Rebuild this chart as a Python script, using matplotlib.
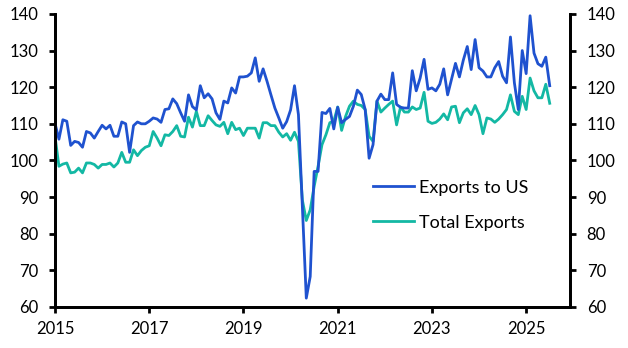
import numpy as np
import matplotlib.pyplot as plt

# Monthly index values, Jan 2015 - Jul 2025
exports_us = [
    110.1, 105.8, 111.1, 110.7, 104.1, 105.2, 104.9, 103.6, 107.9, 107.5, 106.1, 107.9,
    109.6, 108.6, 109.6, 106.6, 106.6, 110.5, 110.0, 102.2, 109.5, 110.5, 110.0, 110.0,
    110.7, 111.6, 111.3, 110.4, 113.9, 114.1, 116.8, 115.5, 113.0, 110.7, 117.9, 114.7,
    113.8, 120.4, 117.1, 118.2, 116.8, 113.0, 111.2, 116.2, 115.7, 119.8, 118.4, 122.8,
    122.8, 123.0, 123.9, 128.0, 121.6, 125.0, 121.6, 117.9, 114.3, 111.6, 108.8, 110.6,
    113.8, 120.4, 112.5, 87.4, 62.4, 68.3, 97.0, 97.0, 113.1, 112.8, 114.2, 108.6,
    114.5, 110.3, 111.2, 112.0, 114.8, 119.2, 118.0, 113.9, 100.6, 104.3, 116.2, 118.1,
    116.6, 116.6, 123.9, 115.3, 114.5, 114.3, 114.3, 124.5, 119.0, 122.5, 127.6, 119.4,
    119.8, 119.0, 120.8, 125.0, 117.9, 122.2, 126.5, 122.8, 127.4, 131.1, 124.8, 133.0,
    125.3, 124.4, 122.8, 122.8, 125.3, 127.0, 123.0, 121.2, 133.7, 121.2, 113.9, 130.0,
    123.7, 139.5, 129.3, 126.4, 125.7, 128.2, 120.4,
]
total_exports = [
    106.6, 98.4, 99.0, 99.3, 96.6, 96.8, 97.9, 96.6, 99.3, 99.3, 98.9, 97.9,
    98.9, 98.9, 99.3, 98.2, 99.3, 102.2, 99.5, 99.5, 102.9, 101.3, 102.7, 103.6,
    104.0, 107.9, 106.1, 104.0, 107.0, 106.8, 107.9, 109.5, 106.6, 106.4, 111.8, 109.1,
    113.4, 109.5, 109.5, 112.2, 110.9, 109.7, 109.3, 110.4, 107.3, 110.4, 108.4, 108.8,
    106.8, 108.8, 108.8, 108.8, 106.1, 110.3, 110.3, 109.5, 109.5, 107.7, 106.4, 107.3,
    105.5, 107.7, 105.2, 89.2, 83.6, 86.5, 92.9, 98.4, 104.3, 107.0, 110.3, 110.7,
    114.6, 108.2, 112.0, 114.8, 116.2, 115.3, 115.0, 113.9, 106.6, 105.2, 116.2, 113.2,
    114.3, 115.3, 116.2, 109.7, 114.6, 113.2, 113.2, 114.6, 113.9, 114.3, 118.6, 110.7,
    110.1, 110.4, 111.3, 112.7, 111.1, 114.6, 114.8, 110.3, 113.0, 114.1, 112.5, 115.0,
    112.5, 107.3, 111.6, 111.3, 110.4, 111.3, 112.5, 113.9, 117.9, 113.4, 112.5, 117.5,
    113.9, 122.5, 119.0, 117.1, 117.1, 120.8, 115.6,
]
year_ticks = [2015, 2017, 2019, 2021, 2023, 2025]
y_ticks = [60, 70, 80, 90, 100, 110, 120, 130, 140]

x = 2015 + np.arange(len(exports_us)) / 12

plt.rcParams['font.family'] = ['Lato', 'DejaVu Sans']
plt.rcParams['font.size'] = 12

fig = plt.figure(figsize=(6.28, 3.48), dpi=100)
ax = fig.add_axes([0.0876, 0.118, 0.82, 0.842])

ax.plot(x, exports_us, color='#1f52cf', lw=2.0, label='Exports to US', zorder=3)
ax.plot(x, total_exports, color='#13b8a4', lw=2.0, label='Total Exports', zorder=2)

ax.set_xlim(2015, 2025.93)
ax.set_ylim(60, 140)
ax.set_xticks(year_ticks)
ax.set_yticks(y_ticks)

ax2 = ax.twinx()
ax2.set_ylim(60, 140)
ax2.set_yticks(y_ticks)

for a in (ax, ax2):
    a.spines['top'].set_visible(False)
    for s in ('left', 'right', 'bottom'):
        a.spines[s].set_linewidth(2.0)
    a.tick_params(direction='out', length=4, width=2, pad=8, labelsize=12)
ax.tick_params(axis='x', pad=6)

ax.legend(loc='upper left', bbox_to_anchor=(0.585, 0.49), frameon=False,
          handlelength=2.3, handletextpad=0.3, labelspacing=1.05, fontsize=13)

fig.savefig('out.png', dpi=100)
